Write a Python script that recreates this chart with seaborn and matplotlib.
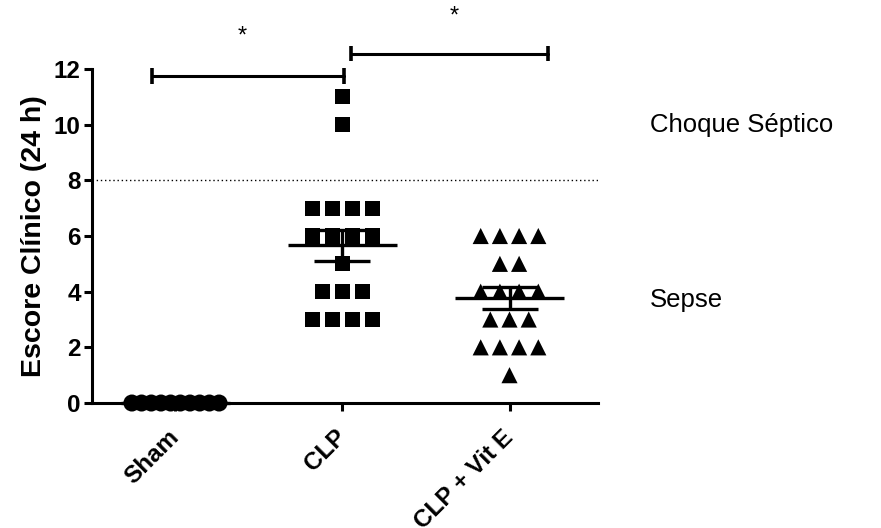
import numpy as np
import pandas as pd
import matplotlib
matplotlib.use("Agg")
import matplotlib.pyplot as plt
import seaborn as sns

sns.set_style("ticks")
plt.rcParams["font.family"] = ["Liberation Sans", "DejaVu Sans"]
plt.rcParams.update({
    "text.color": "black",
    "axes.labelcolor": "black",
    "xtick.color": "black",
    "ytick.color": "black",
    "axes.edgecolor": "black",
})

# ---- data ----
grupos = ["Sham", "CLP", "CLP + Vit E"]
sham_valores = [0, 0, 0, 0, 0, 0, 0, 0, 0, 0]
clp_valores = [11, 10, 7, 7, 7, 7, 6, 6, 6, 6, 5, 4, 4, 4, 3, 3, 3, 3]
vite_valores = [6, 6, 6, 6, 5, 5, 4, 4, 4, 4, 3, 3, 3, 2, 2, 2, 2, 1]

# estilo por grupo: marcador, tamanho, espaçamento horizontal entre pontos iguais
estilo = {
    "Sham": ("o", 150, 0.058),
    "CLP": ("s", 118, 0.12),
    "CLP + Vit E": ("^", 135, 0.115),
}

linhas = []
for i, (g, vals) in enumerate(zip(grupos, [sham_valores, clp_valores, vite_valores])):
    vals = np.array(vals)
    for v in np.unique(vals):
        n = (vals == v).sum()
        offs = (np.arange(n) - (n - 1) / 2) * estilo[g][2]
        for o in offs:
            linhas.append({"grupo": g, "pos": i + o, "escore": v})
df = pd.DataFrame(linhas)

fig = plt.figure(figsize=(8.81, 5.28), dpi=100)
ax = fig.add_axes([0.1044, 0.2367, 0.5744, 0.6326])

# linha de corte choque séptico
ax.axhline(8, color="black", lw=1.0, ls=(0, (1, 2)), zorder=1)

for i, g in enumerate(grupos):
    m, s, _ = estilo[g]
    sub = df[df["grupo"] == g]
    sns.scatterplot(data=sub, x="pos", y="escore", marker=m, s=s, color="black",
                    edgecolor="none", ax=ax, clip_on=False, zorder=3, legend=False)

# média ± EPM
for i, vals in enumerate([sham_valores, clp_valores, vite_valores]):
    vals = np.array(vals, dtype=float)
    media = vals.mean()
    epm = vals.std(ddof=1) / np.sqrt(len(vals))
    ax.plot([i - 0.325, i + 0.325], [media, media], color="black", lw=2.4, zorder=4,
            solid_capstyle="butt", clip_on=False)
    if epm > 0:
        ax.errorbar(i, media, yerr=epm, color="black", lw=2.4, capsize=20,
                    capthick=2.4, zorder=4)

# barras de significância
barras = [(-0.14, 1.01, 11.75, 0.40, 13.15), (1.05, 2.23, 12.55, 1.67, 13.87)]
for x1, x2, y, xs, ys in barras:
    ax.plot([x1, x2], [y, y], color="black", lw=2.2, clip_on=False)
    for xx in (x1, x2):
        ax.plot([xx, xx], [y - 0.28, y + 0.28], color="black", lw=2.6, clip_on=False,
                solid_capstyle="butt")
    ax.text(xs, ys, "*", ha="center", va="center", fontsize=17, clip_on=False)

ax.text(2.84, 10.0, "Choque Séptico", fontsize=18.5, ha="left", va="center")
ax.text(2.84, 3.7, "Sepse", fontsize=18.5, ha="left", va="center")

ax.set_xlim(-0.5, 2.53)
ax.set_ylim(0, 12)
ax.set_yticks(np.arange(0, 13, 2))
ax.set_xticks(range(len(grupos)))
ax.set_xticklabels(grupos, rotation=45, ha="right", va="center", rotation_mode="anchor",
                   fontsize=17.5, fontweight="bold")
for lab in ax.get_yticklabels():
    lab.set_fontsize(17.5)
    lab.set_fontweight("bold")
ax.set_xlabel("")
ax.set_ylabel("Escore Clínico (24 h)", fontsize=20.5, fontweight="bold", labelpad=5)
ax.tick_params(axis="both", width=2.2, length=6, pad=2)
ax.tick_params(axis="x", pad=16)
sns.despine(ax=ax)
for sp in ("left", "bottom"):
    ax.spines[sp].set_linewidth(2.2)

fig.savefig("out.png", dpi=100)
